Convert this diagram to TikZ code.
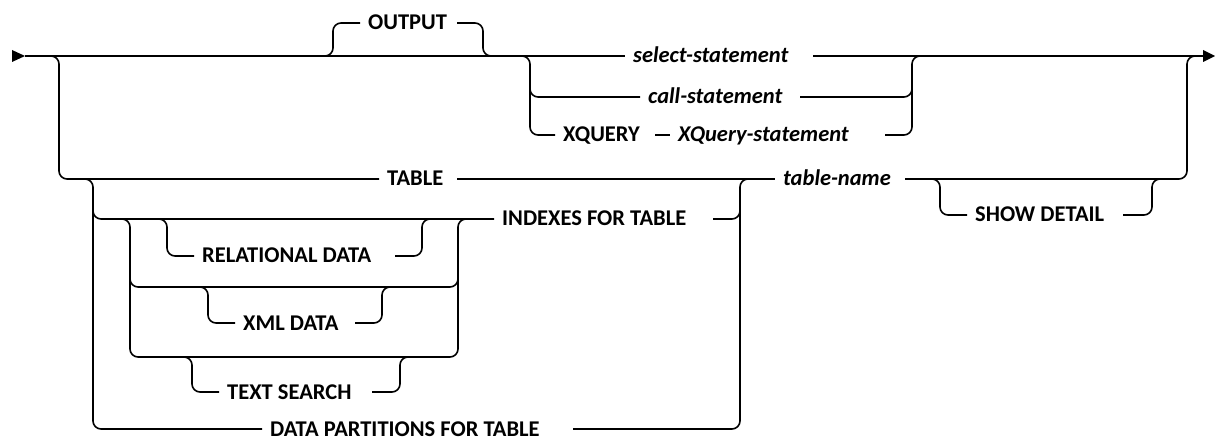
\documentclass[tikz,border=0pt]{standalone}
\usepackage{fontspec}
\setmainfont{Carlito}
\tikzset{
  rr/.style={line width=1.6pt, rounded corners=8pt, line cap=butt},
  lab/.style={inner xsep=8pt, inner ysep=0pt, text height=14pt, text depth=0pt, anchor=west,
    font=\fontsize{22.5}{26}\selectfont\bfseries},
  var/.style={lab, font=\fontsize{22.5}{26}\selectfont\bfseries\itshape},
  tip/.style={fill=black}
}
\begin{document}
\begin{tikzpicture}[x=1pt,y=-1pt]
\useasboundingbox (0,0) rectangle (1215,438);
% labels
\node[lab] (tOutput) at (360,23) {OUTPUT};
\node[var] (tSelect) at (625,56) {select-statement};
\node[var] (tCall)   at (640,97) {call-statement};
\node[lab] (tXq)     at (555,135) {XQUERY};
\node[var] (tXqs)    at (670,135) {XQuery-statement};
\node[lab] (tTable)  at (379,179) {TABLE};
\node[var] (tTname)  at (775,179) {table-name};
\node[lab] (tShow)   at (967,215) {SHOW DETAIL};
\node[lab] (tIdx)    at (494,219) {INDEXES FOR TABLE};
\node[lab] (tRel)    at (194,256) {RELATIONAL DATA};
\node[lab] (tXml)    at (235,323) {XML DATA};
\node[lab] (tTxt)    at (219,392) {TEXT SEARCH};
\node[lab] (tDp)     at (262,429) {DATA PARTITIONS FOR TABLE};
% start / end
\coordinate (st) at (25,56);
\coordinate (en) at (1203,56);
\fill[tip] (12,50) -- (st) -- (12,62) -- cycle;
\fill[tip] (1203,50) -- (1215,56) -- (1203,62) -- cycle;
% main line
\draw[rr] (st) -- (tSelect.west);
\draw[rr] (813,56) -- (en);
% OUTPUT optional
\draw[rr] (315,56) -- (333,56) -- (333,23) -- (tOutput.west);
\draw[rr] (457,23) -- (483,23) -- (483,56) -- (500,56);
% statement choice
\draw[rr] (515,56) -- (530,56) -- (530,135) -- (tXq.west);
\draw[rr] (530,85) -- (530,97) -- (tCall.west);
\draw[rr] (655,135) -- (tXqs.west);
\draw[rr] (885,135) -- (912,135) -- (912,56) -- (925,56);
\draw[rr] (800,97) -- (912,97) -- (912,85);
% lower branch
\draw[rr] (40,56) -- (59,56) -- (59,179) -- (tTable.west);
\draw[rr] (457,179) -- (tTname.west);
\draw[rr] (905,179) -- (1187,179) -- (1187,56) -- (1200,56);
% SHOW DETAIL optional
\draw[rr] (925,179) -- (940,179) -- (940,215) -- (tShow.west);
\draw[rr] (1123,215) -- (1152,215) -- (1152,179) -- (1165,179);
% vertical A
\draw[rr] (80,179) -- (93,179) -- (93,429) -- (tDp.west);
\draw[rr] (93,205) -- (93,219) -- (tIdx.west);
% vertical E
\draw[rr] (573,429) -- (740,429) -- (740,179) -- (755,179);
\draw[rr] (713,219) -- (740,219) -- (740,205);
% data choice
\draw[rr] (115,219) -- (130,219) -- (130,357) -- (458,357) -- (458,219) -- (475,219);
\draw[rr] (130,270) -- (130,287) -- (458,287) -- (458,270);
% RELATIONAL DATA optional
\draw[rr] (150,219) -- (167,219) -- (167,256) -- (tRel.west);
\draw[rr] (395,256) -- (422,256) -- (422,219) -- (440,219);
% XML DATA optional
\draw[rr] (190,287) -- (208,287) -- (208,323) -- (tXml.west);
\draw[rr] (355,323) -- (382,323) -- (382,287) -- (395,287);
% TEXT SEARCH optional
\draw[rr] (175,357) -- (192,357) -- (192,392) -- (tTxt.west);
\draw[rr] (372,392) -- (400,392) -- (400,357) -- (415,357);
\end{tikzpicture}
\end{document}
